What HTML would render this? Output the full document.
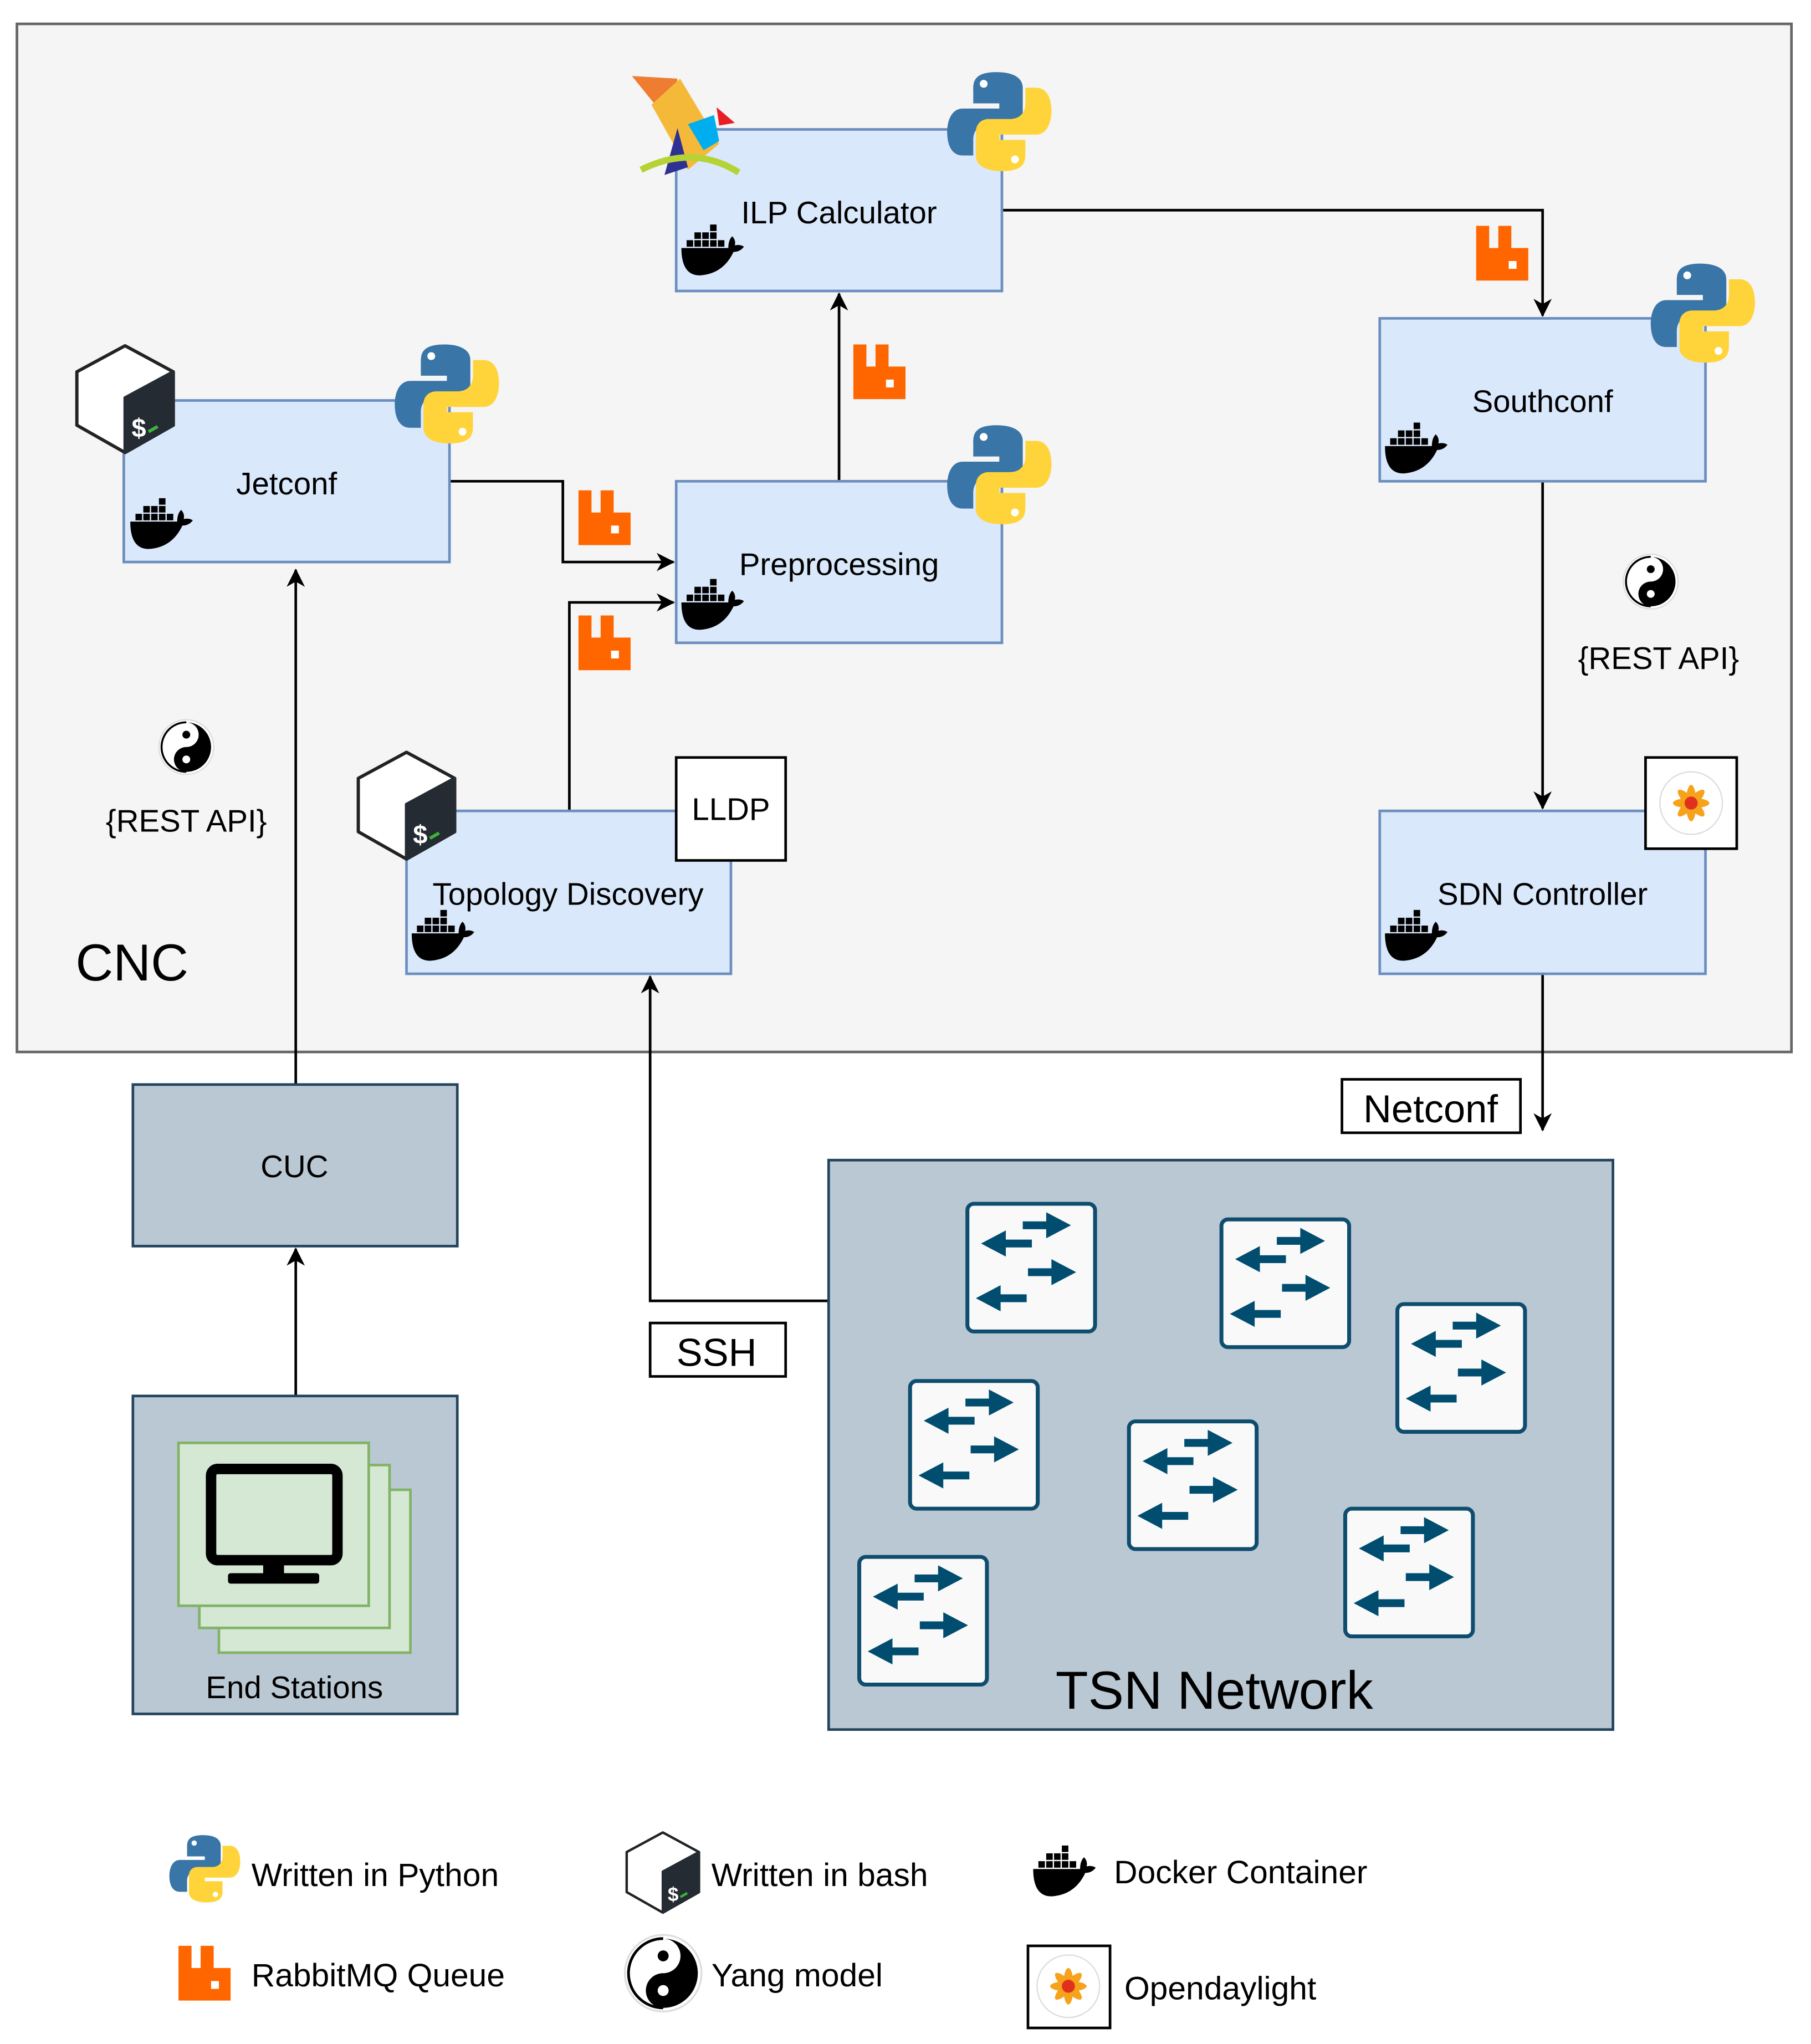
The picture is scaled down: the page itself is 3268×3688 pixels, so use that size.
<!DOCTYPE html>
<html><head><meta charset="utf-8"><style>html,body{margin:0;padding:0;background:#fff}svg{display:block}</style></head>
<body>
<svg xmlns="http://www.w3.org/2000/svg" width="3268" height="3688" viewBox="0 0 1390 1568" font-family="Liberation Sans, sans-serif">
<defs>
<marker id="ar" markerWidth="14" markerHeight="14" refX="13" refY="7" orient="auto" markerUnits="userSpaceOnUse" viewBox="0 0 14 14"><path d="M0 0 L14 7 L0 14 L4 7z" fill="#000"/></marker>
<g id="dock"><rect x="22" y="0" width="5" height="5"/><rect x="10" y="6" width="5" height="5"/><rect x="16" y="6" width="5" height="5"/><rect x="22" y="6" width="5" height="5"/><rect x="4" y="12" width="5" height="5"/><rect x="10" y="12" width="5" height="5"/><rect x="16" y="12" width="5" height="5"/><rect x="22" y="12" width="5" height="5"/><rect x="28" y="12" width="5" height="5"/><path d="M0 18 H36 q0 -6 3 -9 q3 3 2 7 q4 -1 7 1 q-3 4 -8 4 q-8 17 -26 18 q-14 0 -14 -21z"/></g>
<g id="py"><path fill="#3a75a8" d="M38 0 c-18 0 -18 8 -18 14 v10 h20 v4 H12 C3 28 0 38 0 46 c0 11 4 18 12 18 h8 V52 c0 -7 4 -12 12 -12 h16 c6 0 10 -4 10 -10 V12 C58 4 50 0 38 0z"/><circle cx="28" cy="9" r="3" fill="#fff"/><g transform="rotate(180 40 38)"><path fill="#ffd43b" d="M38 0 c-18 0 -18 8 -18 14 v10 h20 v4 H12 C3 28 0 38 0 46 c0 11 4 18 12 18 h8 V52 c0 -7 4 -12 12 -12 h16 c6 0 10 -4 10 -10 V12 C58 4 50 0 38 0z"/><circle cx="28" cy="9" r="3" fill="#fff"/></g></g>
<g id="rb"><path fill="#ff6600" d="M0 0 h10 v17 h7 V0 h10 v17 h13 v25 H0z"/><rect x="25" y="27" width="6" height="6" fill="#fff"/></g>
<g id="bash"><polygon points="37,0 74,20 74,61 37,82 0,61 0,20" fill="#fff" stroke="#222" stroke-width="2.5" stroke-linejoin="round"/><polygon points="37,40 74,20 74,61 37,82" fill="#252b33" stroke="#252b33" stroke-width="2.5" stroke-linejoin="round"/><text x="42" y="70" font-size="20" fill="#fff" font-weight="bold">$</text><line x1="55" y1="66" x2="62" y2="62" stroke="#3bb33b" stroke-width="2.5"/></g>
<g id="yy"><circle r="21" fill="#fff" stroke="#ddd"/><path d="M0 -19 A19 19 0 0 1 0 19 A9.5 9.5 0 0 1 0 0 A9.5 9.5 0 0 0 0 -19z" fill="#000"/><path d="M0 -19 A19 19 0 0 0 0 19" fill="none" stroke="#000" stroke-width="1.5"/><circle cy="-9.5" r="3" fill="#000"/><circle cy="9.5" r="3" fill="#fff"/></g>
<g id="odl"><circle r="24" fill="#fff" stroke="#ddd"/><g fill="#f7a21b"><ellipse rx="4" ry="14"/><ellipse rx="4" ry="14" transform="rotate(45)"/><ellipse rx="4" ry="14" transform="rotate(90)"/><ellipse rx="4" ry="14" transform="rotate(135)"/></g><circle r="5" fill="#e0301e"/></g>
<g id="sw"><rect x="1.5" y="1.5" width="98" height="98" rx="5" fill="#f9f9f9" stroke="#0f4d6e" stroke-width="3"/><g fill="#004d70"><path d="M44 15 h18 v-7 l19 10 l-19 10 v-7 h-18z"/><path d="M51 29 h-20 v-7 l-19 10 l19 10 v-7 h20z"/><path d="M48 51 h18 v-7 l19 10 l-19 10 v-7 h-18z"/><path d="M39 71 h-20 v-7 l-19 10 l19 10 v-7 h20z" transform="translate(8 0)"/></g></g>
</defs>

<rect x="13" y="18" width="1362" height="789" fill="#f5f5f5" stroke="#666" stroke-width="2"/>
<text x="58" y="752" font-size="40">CNC</text>

<g fill="none" stroke="#000" stroke-width="2">
<path d="M769 161 H1184 V242" marker-end="url(#ar)"/>
<path d="M644 369 V225" marker-end="url(#ar)"/>
<path d="M345 369 H432 V431 H517" marker-end="url(#ar)"/>
<path d="M437 622 V462 H517" marker-end="url(#ar)"/>
<path d="M1184 369 V620" marker-end="url(#ar)"/>
<path d="M1184 747 V867" marker-end="url(#ar)"/>
<path d="M227 832 V437" marker-end="url(#ar)"/>
<path d="M227 1071 V958" marker-end="url(#ar)"/>
<path d="M636 998 H499 V749" marker-end="url(#ar)"/>
</g>

<g fill="#dae8fc" stroke="#6c8ebf" stroke-width="2">
<rect x="519" y="99" width="250" height="124"/>
<rect x="1059" y="244" width="250" height="125"/>
<rect x="95" y="307" width="250" height="124"/>
<rect x="519" y="369" width="250" height="124"/>
<rect x="312" y="622" width="249" height="125"/>
<rect x="1059" y="622" width="250" height="125"/>
</g>
<g font-size="24" text-anchor="middle">
<text x="644" y="171">ILP Calculator</text>
<text x="1184" y="316">Southconf</text>
<text x="220" y="379">Jetconf</text>
<text x="644" y="441">Preprocessing</text>
<text x="436" y="694">Topology Discovery</text>
<text x="1184" y="694">SDN Controller</text>
</g>
<rect x="519" y="581" width="84" height="79" fill="#fff" stroke="#000" stroke-width="2"/>
<text x="561" y="629" font-size="24" text-anchor="middle">LLDP</text>
<rect x="1263" y="581" width="70" height="70" fill="#fff" stroke="#000" stroke-width="2"/>
<use href="#odl" x="1298" y="616"/>

<polygon points="485,58 520,60 515,95" fill="#ee7d31"/>
<polygon points="500,80 522,60 552,110 528,130" fill="#f5b93a"/>
<polygon points="528,95 548,88 552,108 540,115" fill="#00aeef"/>
<polygon points="550,82 564,94 552,96" fill="#e81d25"/>
<polygon points="520,98 528,128 510,134" fill="#2e3192"/>
<path d="M492 130 q40 -20 75 2" fill="none" stroke="#b5d334" stroke-width="5"/>

<use href="#py" x="727" y="55"/>
<use href="#py" x="1267" y="202"/>
<use href="#py" x="303" y="264"/>
<use href="#py" x="727" y="326"/>
<use href="#rb" x="1133" y="173"/>
<use href="#rb" x="655" y="264"/>
<use href="#rb" x="444" y="376"/>
<use href="#rb" x="444" y="472"/>
<use href="#bash" x="59" y="265"/>
<use href="#bash" x="275" y="577"/>
<use href="#dock" x="523" y="172"/>
<use href="#dock" x="1063" y="324"/>
<use href="#dock" x="100" y="382"/>
<use href="#dock" x="523" y="444"/>
<use href="#dock" x="316" y="698"/>
<use href="#dock" x="1063" y="698"/>
<use href="#yy" x="143" y="573"/>
<use href="#yy" x="1267" y="446"/>
<text x="143" y="638" font-size="24" text-anchor="middle">{REST API}</text>
<text x="1273" y="513" font-size="24" text-anchor="middle">{REST API}</text>

<rect x="102" y="832" width="249" height="124" fill="#bac8d3" stroke="#23445d" stroke-width="2"/>
<text x="226" y="903" font-size="24" text-anchor="middle">CUC</text>
<rect x="102" y="1071" width="249" height="244" fill="#bac8d3" stroke="#23445d" stroke-width="2"/>
<g fill="#d5e8d4" stroke="#82b366" stroke-width="2">
<rect x="168" y="1143" width="147" height="125"/>
<rect x="153" y="1124" width="146" height="125"/>
<rect x="137" y="1107" width="146" height="125"/>
</g>
<rect x="162" y="1127" width="97" height="70" rx="5" fill="#d5e8d4" stroke="#000" stroke-width="8"/>
<rect x="202" y="1197" width="16" height="12"/>
<rect x="175" y="1207" width="70" height="8" rx="2"/>
<text x="226" y="1303" font-size="24" text-anchor="middle">End Stations</text>

<rect x="1030" y="828" width="137" height="41" fill="#fff" stroke="#000" stroke-width="2"/>
<text x="1098" y="861" font-size="30" text-anchor="middle">Netconf</text>
<rect x="499" y="1015" width="104" height="41" fill="#fff" stroke="#000" stroke-width="2"/>
<text x="550" y="1048" font-size="30" text-anchor="middle">SSH</text>

<rect x="636" y="890" width="602" height="437" fill="#bac8d3" stroke="#23445d" stroke-width="2"/>
<use href="#sw" x="741" y="922"/>
<use href="#sw" x="936" y="934"/>
<use href="#sw" x="1071" y="999"/>
<use href="#sw" x="697" y="1058"/>
<use href="#sw" x="865" y="1089"/>
<use href="#sw" x="1031" y="1156"/>
<use href="#sw" x="658" y="1193"/>
<text x="932" y="1311" font-size="41" text-anchor="middle">TSN Network</text>

<use href="#py" transform="translate(130 1408) scale(0.68)"/>
<text x="193" y="1447" font-size="25">Written in Python</text>
<use href="#bash" transform="translate(481 1406) scale(0.75)"/>
<text x="546" y="1447" font-size="25">Written in bash</text>
<use href="#dock" x="793" y="1416"/>
<text x="855" y="1445" font-size="25">Docker Container</text>
<use href="#rb" x="137" y="1493"/>
<text x="193" y="1524" font-size="25">RabbitMQ Queue</text>
<use href="#yy" transform="translate(509 1514) scale(1.4)"/>
<text x="546" y="1524" font-size="25">Yang model</text>
<rect x="789" y="1493" width="63" height="63" fill="#fff" stroke="#000" stroke-width="2"/>
<use href="#odl" x="820" y="1524"/>
<text x="863" y="1534" font-size="25">Opendaylight</text>
</svg>
</body></html>
